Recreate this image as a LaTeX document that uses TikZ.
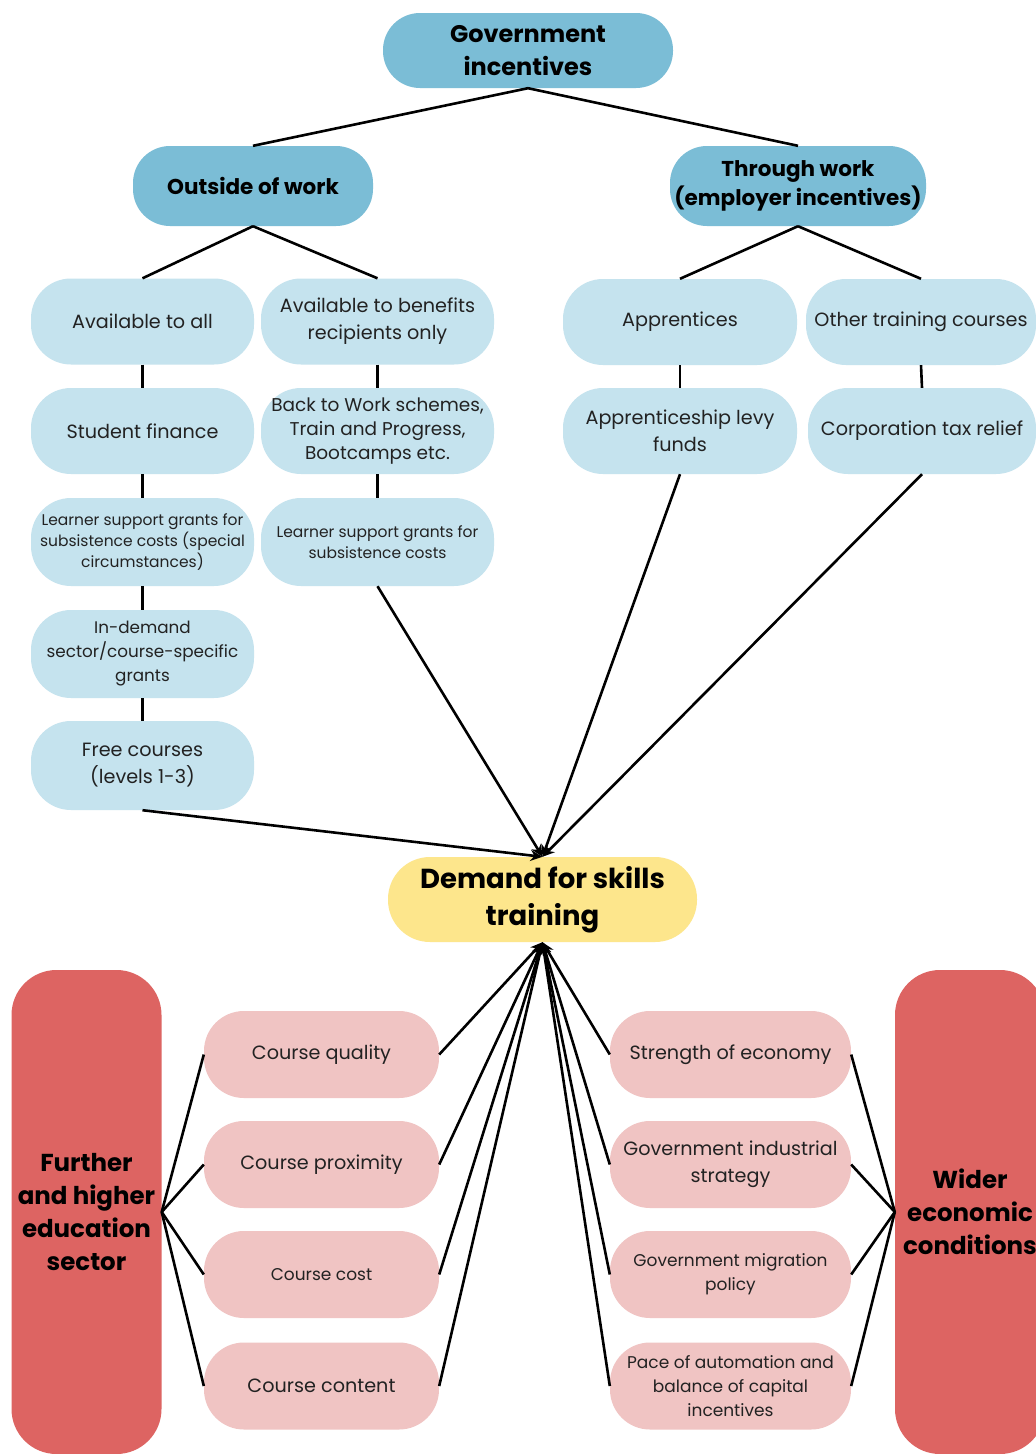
\documentclass[tikz,border=0pt]{standalone}
\usepackage{fontspec}
\setmainfont{Poppins}
\usetikzlibrary{arrows.meta}
\definecolor{gblue}{HTML}{7BBDD6}
\definecolor{lblue}{HTML}{C5E3EE}
\definecolor{dyellow}{HTML}{FDE68C}
\definecolor{lpink}{HTML}{F0C4C3}
\definecolor{dred}{HTML}{DD6462}
\definecolor{txt}{HTML}{222222}
\begin{document}
\begin{tikzpicture}[x=1pt,y=-1pt,
  box/.style={rectangle, rounded corners=40pt, inner sep=0pt, align=center, text=txt},
  dk/.style={box, fill=gblue, rounded corners=37pt, text=black, font=\bfseries\fontsize{21.5}{29}\selectfont},
  lb/.style={box, fill=lblue, minimum width=223pt, minimum height=86pt, font=\fontsize{19.2}{27}\selectfont},
  lbs/.style={lb, font=\fontsize{15.5}{21}\selectfont},
  lbm/.style={lb, font=\fontsize{18.5}{24}\selectfont},
  pk/.style={box, fill=lpink, minimum width=235pt, minimum height=87pt, font=\fontsize{19.2}{27}\selectfont},
  pkr/.style={pk, minimum width=241pt},
  pks/.style={font=\fontsize{17}{24}\selectfont},
  rd/.style={box, fill=dred, rounded corners=45pt, minimum width=150pt, minimum height=484pt, text=black, font=\bfseries\fontsize{24.5}{33}\selectfont},
  ln/.style={line width=2.6pt, black},
  arr/.style={ln, -{Stealth[length=12pt,width=11pt]}}
]
\useasboundingbox[fill=white] (0,0) rectangle (1036,1454);

% top level
\node[dk, minimum width=290pt, minimum height=75pt, font=\bfseries\fontsize{24}{33}\selectfont] (gov) at (528,50.5) {Government\\incentives};
\node[dk, minimum width=240pt, minimum height=80pt] (out) at (253,186) {Outside of work};
\node[dk, minimum width=256pt, minimum height=80pt] (thr) at (798,186) {Through work\\(employer incentives)};

% row 1
\node[lb] (all) at (142.5,321.5) {Available to all};
\node[lb, minimum width=233pt] (ben) at (377.5,321.5) {Available to benefits\\recipients only};
\node[lb, minimum width=234pt] (app) at (680,322) {Apprentices};
\node[lb, minimum width=230pt] (oth) at (921,322) {Other training courses};
% row 2
\node[lb] (sf) at (142.5,431) {Student finance};
\node[lbm, minimum width=233pt] (btw) at (377.5,431) {Back to Work schemes,\\Train and Progress,\\Bootcamps etc.};
\node[lb, minimum width=234pt] (alf) at (680,431) {Apprenticeship levy\\funds};
\node[lb, minimum width=228pt] (ctr) at (922,431) {Corporation tax relief};
% row 3
\node[lbs, minimum height=88pt] (lsa) at (142.5,542) {Learner support grants for\\subsistence costs (special\\circumstances)};
\node[lbs, minimum width=233pt, minimum height=88pt] (lsb) at (377.5,542) {Learner support grants for\\subsistence costs};
% row 4, 5
\node[lb, minimum height=88pt, font=\fontsize{16.8}{24}\selectfont] (ind) at (142.5,654) {In-demand\\sector/course-specific\\grants};
\node[lb, minimum height=89pt] (free) at (142.5,765.5) {Free courses\\(levels 1-3)};

% demand
\node[box, fill=dyellow, rounded corners=42pt, minimum width=309pt, minimum height=85pt, text=black, font=\bfseries\fontsize{27.5}{37}\selectfont] (dem) at (542.5,899.5) {Demand for skills\\training};

% bottom left
\node[pk] (cq) at (321.5,1054.5) {Course quality};
\node[pk] (cp) at (321.5,1164.5) {Course proximity};
\node[pk, pks] (cc) at (321.5,1274.5) {Course cost};
\node[pk] (cn) at (321.5,1386) {Course content};
% bottom right
\node[pkr] (se) at (730.5,1054.5) {Strength of economy};
\node[pkr] (gi) at (730.5,1164.5) {Government industrial\\strategy};
\node[pkr, pks] (gm) at (730.5,1274.5) {Government migration\\policy};
\node[pkr, pks] (pa) at (730.5,1386) {Pace of automation and\\balance of capital\\incentives};

% red side boxes
\node[rd] (fhe) at (86.5,1212) {Further\\and higher\\education\\sector};
\node[rd] (wec) at (970,1212) {Wider\\economic\\conditions};

% connectors: tree
\draw[ln] (gov.south) -- (out.north);
\draw[ln] (gov.south) -- (thr.north);
\draw[ln] (out.south) -- (all.north);
\draw[ln] (out.south) -- (ben.north);
\draw[ln] (thr.south) -- (app.north);
\draw[ln] (thr.south) -- (oth.north);
\draw[ln] (all.south) -- (sf.north);
\draw[ln] (sf.south) -- (lsa.north);
\draw[ln] (lsa.south) -- (ind.north);
\draw[ln] (ind.south) -- (free.north);
\draw[ln] (ben.south) -- (btw.north);
\draw[ln] (btw.south) -- (lsb.north);
\draw[ln] (app.south) -- (alf.north);
\draw[ln] (oth.south) -- (ctr.north);

% into demand (top)
\draw[arr] (free.south) -- (dem.north);
\draw[arr] (lsb.south) -- (dem.north);
\draw[arr] (alf.south) -- (dem.north);
\draw[arr] (ctr.south) -- (dem.north);

% into demand (bottom)
\foreach \n in {cq,cp,cc,cn} { \draw[arr] (\n.east) -- (dem.south); }
\foreach \n in {se,gi,gm,pa} { \draw[arr] (\n.west) -- (dem.south); }

% side boxes
\foreach \n in {cq,cp,cc,cn} { \draw[ln] (fhe.east) -- (\n.west); }
\foreach \n in {se,gi,gm,pa} { \draw[ln] (\n.east) -- (wec.west); }
\end{tikzpicture}
\end{document}
